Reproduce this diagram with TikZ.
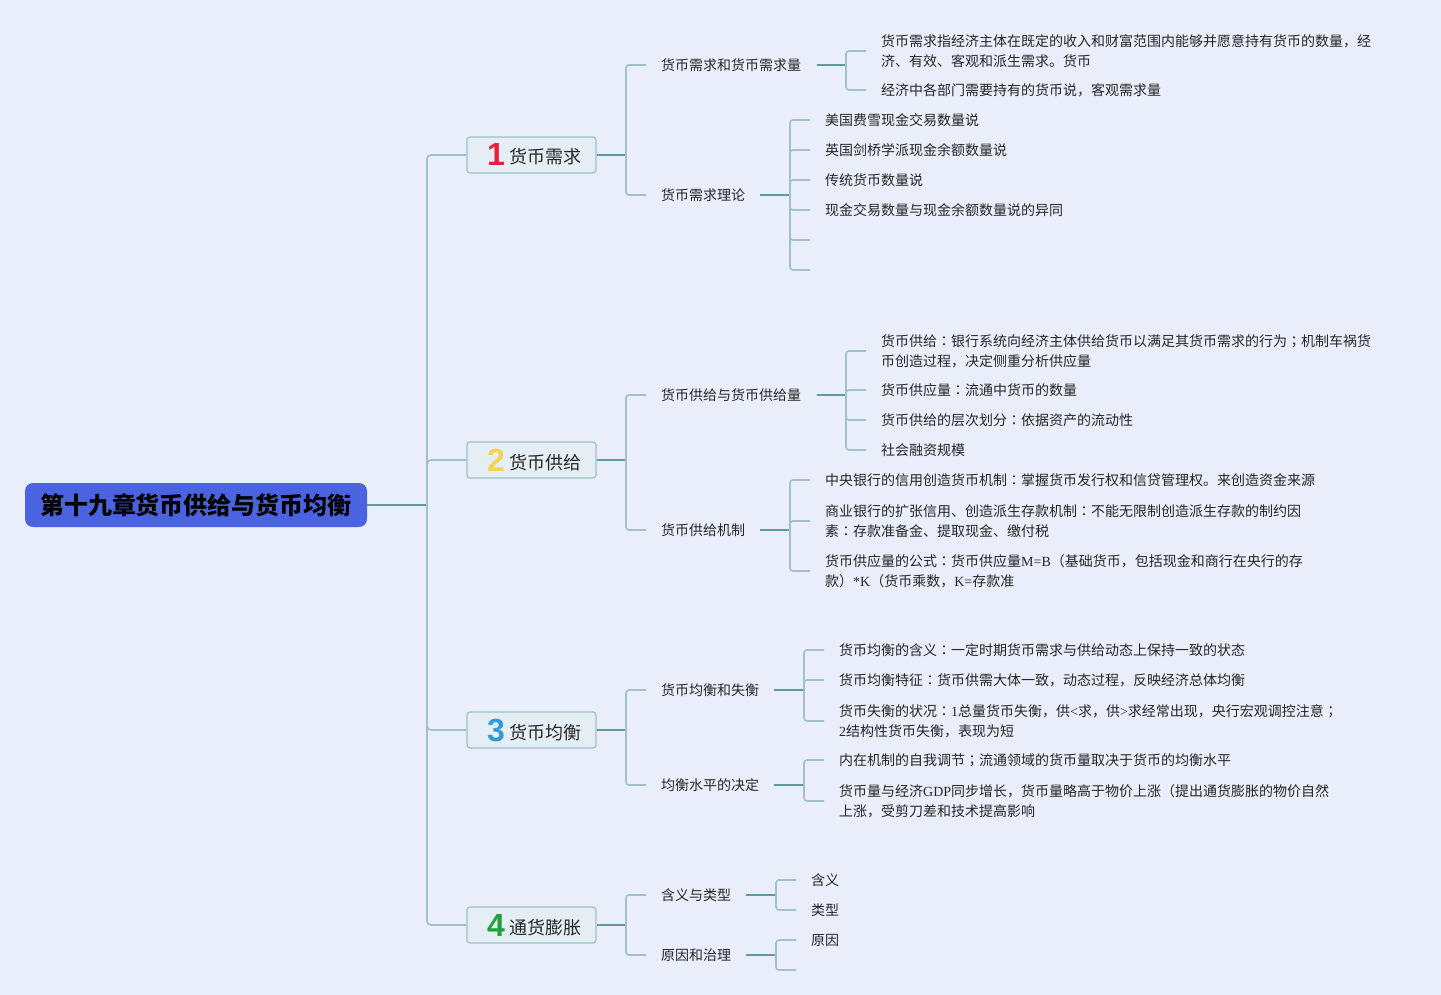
\documentclass[tikz,border=0pt]{standalone}
\usepackage{fontspec}
\setmainfont{Noto Sans CJK SC}
\newfontfamily\lat{Liberation Serif}
\newfontfamily\numfont{Liberation Sans}
\newfontfamily\jpf{Noto Sans CJK JP}
\newcommand\colc{{\jpf ：}}
\newcommand\semic{{\jpf ；}}
\definecolor{bgc}{HTML}{E9EEFA}
\definecolor{rootc}{HTML}{4A63E0}
\definecolor{boxf}{HTML}{E6EEF5}
\definecolor{boxb}{HTML}{9DC1C7}
\definecolor{stemc}{HTML}{5F9B97}
\definecolor{litec}{HTML}{A0C2C6}
\definecolor{txtc}{HTML}{262626}
\definecolor{n1}{HTML}{E8203A}
\definecolor{n2}{HTML}{F4D44C}
\definecolor{n3}{HTML}{2E9BDA}
\definecolor{n4}{HTML}{22A03A}
\newcommand\bignum[2]{\hspace*{5pt}\makebox[22pt][l]{\raisebox{-2pt}[0pt][0pt]{\numfont\bfseries\fontsize{32}{32}\selectfont\color{#1}#2}}}
\tikzset{
  txt/.style={anchor=west, inner sep=0pt, font=\fontsize{14}{20}\selectfont, align=left, text=txtc},
  rootbox/.style={fill=rootc, rounded corners=8pt, minimum width=342pt, minimum height=44pt, inner sep=0pt, font=\fontsize{24}{24}\selectfont\bfseries, text=black},
  brbox/.style={draw=boxb, fill=boxf, rounded corners=3pt, minimum width=129pt, minimum height=36pt, inner sep=0pt, text height=18pt, text depth=0pt, line width=1.2pt, font=\fontsize{18}{18}\selectfont, text=txtc},
  stem/.style={draw=stemc, line width=1.6pt},
  lite/.style={draw=litec, line width=1.6pt, rounded corners=3pt},
  trunkv/.style={draw=litec, line width=1.6pt, rounded corners=4pt},
}
\begin{document}
\begin{tikzpicture}[x=1pt,y=-1pt]
\fill[bgc] (0,0) rectangle (1441,995);
\useasboundingbox (0,0) rectangle (1441,995);

% root and branches
\node[rootbox] (root) at (196,505) {第十九章货币供给与货币均衡};
\node[brbox] (b1) at (531.5,155) {\bignum{n1}{1}货币需求};
\node[brbox] (b2) at (531.5,460) {\bignum{n2}{2}货币供给};
\node[brbox] (b3) at (531.5,730) {\bignum{n3}{3}货币均衡};
\node[brbox] (b4) at (531.5,925) {\bignum{n4}{4}通货膨胀};

\coordinate (t) at (427,505);
\draw[stem] (root.east) -- (t);
\foreach \b in {b1,b2,b3,b4} \draw[trunkv] (t) |- (\b.west);

% level 2 nodes
\node[txt] (c11) at (661,65) {货币需求和货币需求量};
\node[txt] (c12) at (661,195) {货币需求理论};
\node[txt] (c21) at (661,395) {货币供给与货币供给量};
\node[txt] (c22) at (661,530) {货币供给机制};
\node[txt] (c31) at (661,690) {货币均衡和失衡};
\node[txt] (c32) at (661,785) {均衡水平的决定};
\node[txt] (c41) at (661,895) {含义与类型};
\node[txt] (c42) at (661,955) {原因和治理};

\coordinate (j1) at (626,155);
\coordinate (j2) at (626,460);
\coordinate (j3) at (626,730);
\coordinate (j4) at (626,925);
\draw[stem] (b1.east) -- (j1);
\draw[stem] (b2.east) -- (j2);
\draw[stem] (b3.east) -- (j3);
\draw[stem] (b4.east) -- (j4);
\draw[lite] (j1) |- ([xshift=-15pt]c11.west);
\draw[lite] (j1) |- ([xshift=-15pt]c12.west);
\draw[lite] (j2) |- ([xshift=-15pt]c21.west);
\draw[lite] (j2) |- ([xshift=-15pt]c22.west);
\draw[lite] (j3) |- ([xshift=-15pt]c31.west);
\draw[lite] (j3) |- ([xshift=-15pt]c32.west);
\draw[lite] (j4) |- ([xshift=-15pt]c41.west);
\draw[lite] (j4) |- ([xshift=-15pt]c42.west);

% level 3 nodes
\node[txt] (g111) at (881,51) {货币需求指经济主体在既定的收入和财富范围内能够并愿意持有货币的数量，经\\济、有效、客观和派生需求。货币};
\node[txt] (g112) at (881,90) {经济中各部门需要持有的货币说，客观需求量};

\node[txt] (g121) at (825,120) {美国费雪现金交易数量说};
\node[txt] (g122) at (825,150) {英国剑桥学派现金余额数量说};
\node[txt] (g123) at (825,180) {传统货币数量说};
\node[txt] (g124) at (825,210) {现金交易数量与现金余额数量说的异同};
\coordinate (e125) at (810,240);
\coordinate (e126) at (810,270);

\node[txt] (g211) at (881,351) {货币供给\colc 银行系统向经济主体供给货币以满足其货币需求的行为\semic 机制车祸货\\币创造过程，决定侧重分析供应量};
\node[txt] (g212) at (881,390) {货币供应量\colc 流通中货币的数量};
\node[txt] (g213) at (881,420) {货币供给的层次划分\colc 依据资产的流动性};
\node[txt] (g214) at (881,450) {社会融资规模};

\node[txt] (g221) at (825,480) {中央银行的信用创造货币机制\colc 掌握货币发行权和信贷管理权。来创造资金来源};
\node[txt] (g222) at (825,521) {商业银行的扩张信用、创造派生存款机制\colc 不能无限制创造派生存款的制约因\\素\colc 存款准备金、提取现金、缴付税};
\node[txt] (g223) at (825,571) {货币供应量的公式\colc 货币供应量{\lat M=B}（基础货币，包括现金和商行在央行的存\\款）{\lat *K}（货币乘数，{\lat K=}存款准};

\node[txt] (g311) at (839,650) {货币均衡的含义\colc 一定时期货币需求与供给动态上保持一致的状态};
\node[txt] (g312) at (839,680) {货币均衡特征\colc 货币供需大体一致，动态过程，反映经济总体均衡};
\node[txt] (g313) at (839,721) {货币失衡的状况\colc {\lat 1}总量货币失衡，供{\lat <}求，供{\lat >}求经常出现，央行宏观调控注意\semic \\{\lat 2}结构性货币失衡，表现为短};

\node[txt] (g321) at (839,760) {内在机制的自我调节\semic 流通领域的货币量取决于货币的均衡水平};
\node[txt] (g322) at (839,801) {货币量与经济{\lat GDP}同步增长，货币量略高于物价上涨（提出通货膨胀的物价自然\\上涨，受剪刀差和技术提高影响};

\node[txt] (g411) at (811,880) {含义};
\node[txt] (g412) at (811,910) {类型};
\node[txt] (g421) at (811,940) {原因};
\coordinate (e422) at (796,970);

% level 2 -> level 3 connectors
\coordinate (k11) at (846,65);
\coordinate (k12) at (790,195);
\coordinate (k21) at (846,395);
\coordinate (k22) at (790,530);
\coordinate (k31) at (804,690);
\coordinate (k32) at (804,785);
\coordinate (k41) at (776,895);
\coordinate (k42) at (776,955);
\draw[stem] ([xshift=16pt]c11.east) -- (k11);
\draw[stem] ([xshift=15pt]c12.east) -- (k12);
\draw[stem] ([xshift=16pt]c21.east) -- (k21);
\draw[stem] ([xshift=15pt]c22.east) -- (k22);
\draw[stem] ([xshift=15pt]c31.east) -- (k31);
\draw[stem] ([xshift=15pt]c32.east) -- (k32);
\draw[stem] ([xshift=15pt]c41.east) -- (k41);
\draw[stem] ([xshift=15pt]c42.east) -- (k42);

\foreach \g in {g111,g112} \draw[lite] (k11) |- ([xshift=-15pt]\g.west);
\foreach \g in {g121,g122,g123,g124} \draw[lite] (k12) |- ([xshift=-15pt]\g.west);
\draw[lite] (k12) |- (e125);
\draw[lite] (k12) |- (e126);
\foreach \g in {g211,g212,g213,g214} \draw[lite] (k21) |- ([xshift=-15pt]\g.west);
\foreach \g in {g221,g222,g223} \draw[lite] (k22) |- ([xshift=-15pt]\g.west);
\foreach \g in {g311,g312,g313} \draw[lite] (k31) |- ([xshift=-15pt]\g.west);
\foreach \g in {g321,g322} \draw[lite] (k32) |- ([xshift=-15pt]\g.west);
\foreach \g in {g411,g412} \draw[lite] (k41) |- ([xshift=-15pt]\g.west);
\draw[lite] (k42) |- ([xshift=-15pt]g421.west);
\draw[lite] (k42) |- (e422);
\end{tikzpicture}
\end{document}
